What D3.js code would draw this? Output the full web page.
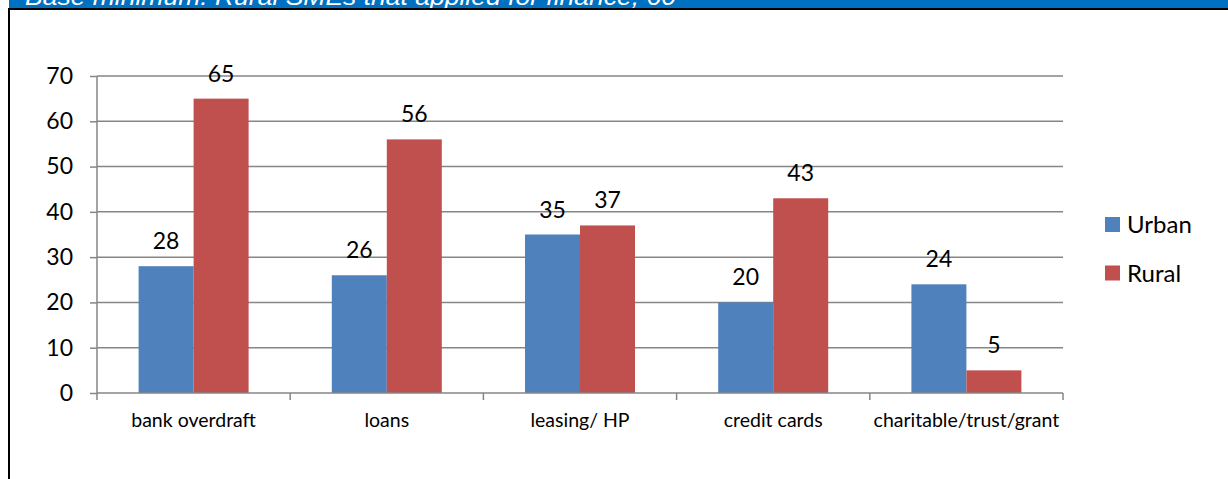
<!DOCTYPE html>
<html>
<head>
<meta charset="utf-8">
<script src="https://cdn.jsdelivr.net/npm/d3@7"></script>
<style>
  html, body { margin: 0; padding: 0; background: #fff; }
  svg { display: block; }
</style>
</head>
<body>
<div id="chart"></div>
<script>
// Finance sources applied for, urban vs rural SMEs (%)
const categories = ["bank overdraft", "loans", "leasing/ HP", "credit cards", "charitable/trust/grant"];
const seriesNames = ["Urban", "Rural"];
const urbanValues = [28, 26, 35, 20, 24];
const ruralValues = [65, 56, 37, 43, 5];
const yTicks = [0, 10, 20, 30, 40, 50, 60, 70];
const headerText = "Base minimum: Rural SMEs that applied for finance, 60";

const W = 1228, H = 479;
const colors = { Urban: "#4F81BD", Rural: "#C0504D" };
const gridColor = "#868686";
const font = "Lato, 'Open Sans', sans-serif";

const svg = d3.select("#chart").append("svg")
  .attr("width", W).attr("height", H);

// Header band with its italic caption, running past the top edge
svg.append("rect").attr("x", 9).attr("y", 0).attr("width", W - 9).attr("height", 8)
  .attr("fill", "#0070C0");
svg.append("text").attr("x", 25).attr("y", 4.5)
  .attr("font-family", "'Liberation Sans', Arial, sans-serif")
  .attr("font-style", "italic").attr("font-size", 23)
  .attr("fill", "#fff")
  .attr("textLength", 651).attr("lengthAdjust", "spacingAndGlyphs")
  .text(headerText);
svg.append("rect").attr("x", 8).attr("y", 8).attr("width", W - 8).attr("height", 2)
  .attr("fill", "#000");
svg.append("rect").attr("x", 8).attr("y", 8).attr("width", 2).attr("height", H - 8)
  .attr("fill", "#000");

// Plot area
const plot = { left: 97, right: 1063, top: 76, bottom: 393 };

const x0 = d3.scaleBand().domain(categories)
  .range([plot.left, plot.right]).paddingInner(0).paddingOuter(0);
// two 55px bars centred in each category
const barW = 55;
const y = d3.scaleLinear().domain([0, 70]).range([plot.bottom, plot.top]);

// Horizontal gridlines
svg.append("g").selectAll("line").data(yTicks.filter(d => d > 0)).join("line")
  .attr("x1", plot.left).attr("x2", plot.right)
  .attr("y1", d => y(d)).attr("y2", d => y(d))
  .attr("stroke", gridColor).attr("stroke-width", 1.5);

// Y axis
const yAxis = svg.append("g").attr("transform", `translate(${plot.left},0)`)
  .call(d3.axisLeft(y).tickValues(yTicks).tickSize(7).tickPadding(17));
yAxis.select(".domain").attr("stroke", gridColor).attr("stroke-width", 1.5)
  .attr("d", `M0,${plot.top}V${plot.bottom}`);
yAxis.selectAll(".tick line").attr("stroke", gridColor).attr("stroke-width", 1.5);
yAxis.selectAll(".tick text").attr("font-family", font).attr("font-size", 23)
  .attr("fill", "#000");

// Bars
const data = categories.map((c, i) => ({ cat: c, Urban: urbanValues[i], Rural: ruralValues[i] }));
const groups = svg.append("g").selectAll("g").data(data).join("g")
  .attr("transform", d => `translate(${x0(d.cat) + x0.bandwidth() / 2 - barW},0)`);

groups.selectAll("rect").data(d => seriesNames.map((s, j) => ({ s, j, v: d[s] }))).join("rect")
  .attr("x", d => d.j * barW)
  .attr("y", d => y(d.v))
  .attr("width", barW)
  .attr("height", d => y(0) - y(d.v))
  .attr("fill", d => colors[d.s]);

// Value labels
groups.selectAll("text").data(d => seriesNames.map((s, j) => ({ s, j, v: d[s] }))).join("text")
  .attr("x", d => d.j * barW + barW / 2)
  .attr("y", d => y(d.v) - 17)
  .attr("text-anchor", "middle")
  .attr("font-family", font).attr("font-size", 23).attr("fill", "#000")
  .text(d => d.v);

// X axis
const xAxis = svg.append("g").attr("transform", `translate(0,${plot.bottom})`)
  .call(d3.axisBottom(x0).tickSize(0).tickPadding(20));
xAxis.select(".domain").attr("stroke", gridColor).attr("stroke-width", 1.5)
  .attr("d", `M${plot.left},0H${plot.right}`);
xAxis.selectAll(".tick text").attr("font-family", font).attr("font-size", 19.5)
  .attr("fill", "#000");
const bounds = categories.map(c => x0(c)).concat([plot.right]);
xAxis.append("g").selectAll("line").data(bounds).join("line")
  .attr("x1", d => d).attr("x2", d => d).attr("y1", 0).attr("y2", 7)
  .attr("stroke", gridColor).attr("stroke-width", 1.5);

// Legend
const legend = svg.append("g").attr("transform", "translate(1105,217)");
const li = legend.selectAll("g").data(seriesNames).join("g")
  .attr("transform", (d, i) => `translate(0,${i * 48.5})`);
li.append("rect").attr("width", 15).attr("height", 15).attr("fill", d => colors[d]);
li.append("text").attr("x", 22).attr("y", 16)
  .attr("font-family", font).attr("font-size", 24).attr("fill", "#000")
  .text(d => d);
</script>
</body>
</html>
